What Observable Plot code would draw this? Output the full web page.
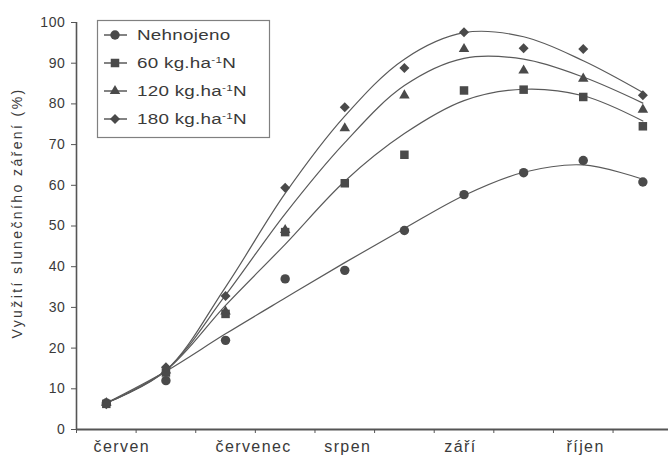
<!DOCTYPE html>
<html><head><meta charset="utf-8">
<script src="https://cdn.jsdelivr.net/npm/d3@7"></script>
<script src="https://cdn.jsdelivr.net/npm/@observablehq/plot@0.6"></script>
<style>
html,body{margin:0;padding:0;background:#fff;}
#chart{position:relative;width:668px;height:457px;}
</style></head><body><div id="chart"></div>
<script>
// ten-day periods (x position of each measurement)
const period = [0.5, 1.5, 2.5, 3.5, 4.5, 5.5, 6.5, 7.5, 8.5, 9.5];

// measured values (%)
const valNehnojeno = [6.5, 12.0, 21.9, 37.0, 39.1, 48.9, 57.7, 63.1, 66.1, 60.8];
const val60 = [6.3, 14.0, 28.4, 48.5, 60.5, 67.5, 83.3, 83.5, 81.7, 74.5];
const val120 = [6.5, 14.5, 29.0, 49.0, 74.0, 82.1, 93.5, 88.2, 86.2, 78.6];
const val180 = [6.2, 15.3, 32.8, 59.4, 79.2, 88.8, 97.6, 93.7, 93.5, 82.1];

// fitted trend curves (%)
const fitNehnojeno = [6.5, 14.3, 23.5, 32.3, 41.0, 49.4, 57.5, 63.2, 65.0, 61.5];
const fit60 = [6.5, 14.5, 30.5, 45.5, 61.0, 72.7, 80.8, 83.6, 82.0, 75.8];
const fit120 = [6.5, 14.5, 33.0, 53.0, 70.5, 84.5, 91.2, 91.0, 86.6, 80.2];
const fit180 = [6.5, 14.5, 35.0, 58.0, 77.0, 91.0, 97.5, 96.5, 90.6, 82.8];

const seriesNames = ["Nehnojeno", "60 kg.ha-1N", "120 kg.ha-1N", "180 kg.ha-1N"];
const seriesSymbols = ["circle", "square", "triangle", "diamond2"];

const months = ["červen", "červenec", "srpen", "září", "říjen"];
const monthPos = [0.76, 2.97, 4.55, 6.44, 8.54];
const xTicks = [0, 1, 2, 3, 4, 5, 6, 7, 8, 9];
const yTicks = [0, 10, 20, 30, 40, 50, 60, 70, 80, 90, 100];

const values = [valNehnojeno, val60, val120, val180];
const fits = [fitNehnojeno, fit60, fit120, fit180];
const symbolR = [4.7, 4.8, 3.9, 4.5];

const ink = "#4a4a4a";
const toRows = arr => period.map((p, i) => ({p, v: arr[i]}));

const marks = [
  Plot.ruleX([0], {stroke: "#555", strokeWidth: 1.6}),
  Plot.ruleY([0], {stroke: "#555", strokeWidth: 2}),
  Plot.axisY({ticks: yTicks, tickSize: 5, tickPadding: 6, fontSize: 14, stroke: "#555",
    label: "Využití slunečního záření (%)", labelAnchor: "center", labelOffset: 64, labelArrow: "none"}),
  Plot.axisX({ticks: xTicks, tickSize: 4, tickFormat: () => "", label: null, stroke: "#555"}),
  Plot.axisX({ticks: monthPos, tickSize: 0, tickPadding: 11, fontSize: 16,
    tickFormat: d => months[monthPos.indexOf(d)], label: null})
];
fits.forEach(f => marks.push(Plot.line(toRows(f), {x: "p", y: "v", curve: "catmull-rom", stroke: "#5a5a5a", strokeWidth: 1.2})));
values.forEach((v, i) => marks.push(Plot.dot(toRows(v), {x: "p", y: "v", symbol: seriesSymbols[i], r: symbolR[i], fill: ink, stroke: "none"})));

const chart = Plot.plot({
  width: 668, height: 457,
  marginLeft: 76, marginRight: 0, marginTop: 22, marginBottom: 28,
  x: {domain: [0, 9.93]},
  y: {domain: [0, 100]},
  style: {fontFamily: "'Liberation Sans', Arial, sans-serif", color: "#3a3a3a", background: "#fff"},
  marks
});
document.getElementById("chart").appendChild(chart);

const svg = d3.select(chart);
svg.selectAll('g[aria-label="x-axis tick label"] text').style("letter-spacing", "1.4px");
svg.selectAll('g[aria-label="y-axis tick label"] text').style("letter-spacing", "0.6px");
svg.selectAll('g[aria-label="y-axis label"] text').style("letter-spacing", "2.4px").style("font-size", "14px").attr("dx", 13);

// legend box
const lg = svg.append("g").attr("text-anchor", "start");
lg.append("rect").attr("x", 97.5).attr("y", 20.5).attr("width", 172).attr("height", 117)
  .attr("fill", "#fff").attr("stroke", "#808080").attr("stroke-width", 1.2);
seriesNames.forEach((name, i) => {
  const cy = 35 + i * 28;
  lg.append("line").attr("x1", 104).attr("x2", 127).attr("y1", cy).attr("y2", cy)
    .attr("stroke", "#5a5a5a").attr("stroke-width", 1.5);
  const sym = {circle: d3.symbolCircle, square: d3.symbolSquare, triangle: d3.symbolTriangle, diamond2: d3.symbolDiamond2}[seriesSymbols[i]];
  lg.append("path").attr("d", d3.symbol(sym, Math.PI * symbolR[i] * symbolR[i])())
    .attr("transform", `translate(115,${cy})`).attr("fill", ink);
  const t = lg.append("text").attr("transform", `translate(137,${cy + 5}) scale(1.3,1)`)
    .attr("text-anchor", "start")
    .attr("font-size", 14.5).attr("fill", "#3a3a3a").style("letter-spacing", "0.2px");
  const k = name.indexOf("-1");
  if (k < 0) t.text(name);
  else {
    t.append("tspan").text(name.slice(0, k));
    t.append("tspan").attr("font-size", 9).attr("dy", -5).text(name.slice(k, k + 2));
    t.append("tspan").attr("dy", 5).text(name.slice(k + 2));
  }
});
</script></body></html>
